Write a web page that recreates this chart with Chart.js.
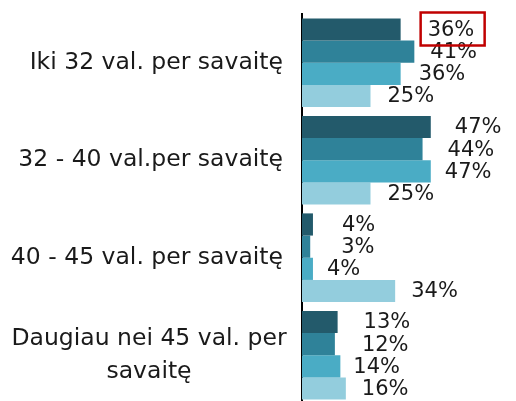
<!DOCTYPE html>
<html>
<head>
<meta charset="utf-8">
<script src="https://cdn.jsdelivr.net/npm/chart.js@4/dist/chart.umd.min.js"></script>
<style>
    html, body { margin: 0; padding: 0; background: #fff; overflow: hidden; }
    #wrap { width: 516px; height: 406px; position: relative; }
</style>
</head>
<body>
<div id="wrap"><canvas id="chart"></canvas></div>
<script>
const categories = [
    ['Iki 32 val. per savaitę'],
    ['32 - 40 val.per savaitę'],
    ['40 - 45 val. per savaitę'],
    ['Daugiau nei 45 val. per', 'savaitę']
];
const series1 = [36, 47, 4, 13];
const series2 = [41, 44, 3, 12];
const series3 = [36, 47, 4, 14];
const series4 = [25, 25, 34, 16];

const colors = ['#235a6b', '#2f8299', '#4aacc5', '#93cddd'];
// gap between bar end and its value label, per series / per category
const labelGaps = [
    [27, 24, 29, 26],
    [16, 25, 31, 27],
    [18, 14, 14, 13],
    [17, 17, 16, 16]
];

const labelPlugin = {
    id: 'labels',
    afterDatasetsDraw (chart) {
        const ctx = chart.ctx;
        const yScale = chart.scales.y;
        ctx.save();

        // category labels
        ctx.fillStyle = '#1a1a1a';
        ctx.font = '23.5px "DejaVu Sans", Verdana, sans-serif';
        ctx.textBaseline = 'middle';
        categories.forEach((lines, i) => {
            const y = yScale.getPixelForValue(i);
            const lh = 33;
            const startY = y - (lines.length - 1) * lh / 2;
            if (lines.length === 1) {
                ctx.textAlign = 'right';
                ctx.fillText(lines[0], 283, y);
            } else {
                ctx.textAlign = 'center';
                lines.forEach((line, j) => ctx.fillText(line, 149, startY + j * lh));
            }
        });

        // value labels
        ctx.font = '21px "DejaVu Sans", Verdana, sans-serif';
        ctx.textAlign = 'left';
        chart.data.datasets.forEach((ds, di) => {
            chart.getDatasetMeta(di).data.forEach((bar, i) => {
                ctx.fillText(ds.data[i] + '%', bar.x + labelGaps[di][i], bar.y + 1);
            });
        });

        // red box around the first value
        const first = chart.getDatasetMeta(0).data[0];
        ctx.strokeStyle = '#c00000';
        ctx.lineWidth = 2.5;
        ctx.strokeRect(first.x + 20, 12.5, 64, 33);
        ctx.restore();
    }
};

new Chart(document.getElementById('chart'), {
    type: 'bar',
    data: {
        labels: categories,
        datasets: [series1, series2, series3, series4].map((d, i) => ({
            label: 'S' + (i + 1),
            data: d,
            backgroundColor: colors[i],
            borderWidth: 0,
            barPercentage: 1,
            categoryPercentage: 0.91
        }))
    },
    options: {
        indexAxis: 'y',
        responsive: true,
        maintainAspectRatio: false,
        animation: false,
        layout: {
            padding: { top: 14, bottom: 2, left: 0, right: 77 }
        },
        plugins: {
            legend: { display: false },
            tooltip: { enabled: false }
        },
        scales: {
            x: {
                display: false,
                min: 0,
                max: 50
            },
            y: {
                ticks: { display: false },
                grid: { display: false },
                border: { display: true, color: '#000', width: 2 },
                afterFit: scale => { scale.width = 302; }
            }
        }
    },
    plugins: [labelPlugin]
});
</script>
</body>
</html>
